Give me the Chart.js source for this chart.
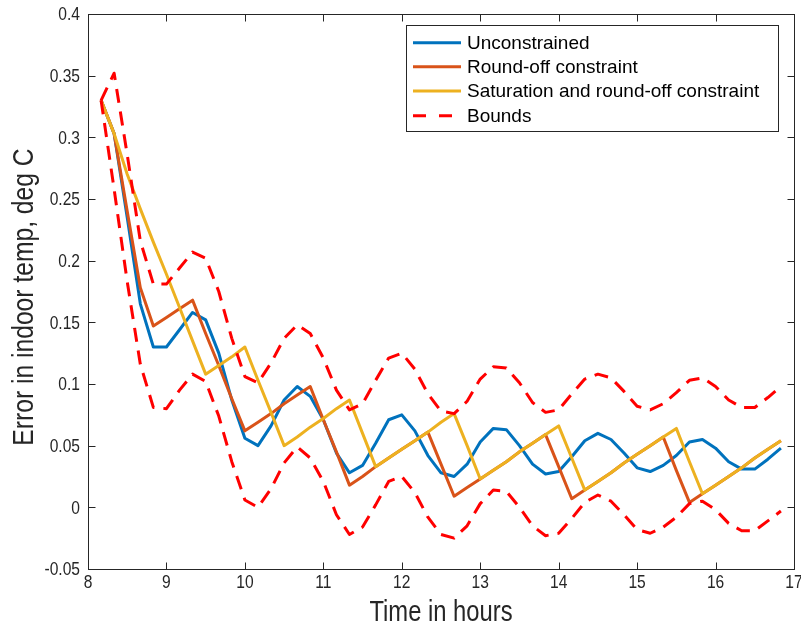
<!DOCTYPE html>
<html>
<head>
<meta charset="utf-8">
<title>Error in indoor temp</title>
<script src="https://cdn.jsdelivr.net/npm/chart.js@4.4.1/dist/chart.umd.min.js"></script>
<style>
  html, body { margin: 0; padding: 0; background: #fff; }
  #wrap { width: 801px; height: 631px; }
</style>
</head>
<body>
<div id="wrap"><canvas id="errChart" width="801" height="631"></canvas></div>
<script>
// sample times (hours), one every 10 minutes
const hours = [8.167, 8.333, 8.5, 8.667, 8.833,
  9, 9.167, 9.333, 9.5, 9.667, 9.833,
  10, 10.167, 10.333, 10.5, 10.667, 10.833,
  11, 11.167, 11.333, 11.5, 11.667, 11.833,
  12, 12.167, 12.333, 12.5, 12.667, 12.833,
  13, 13.167, 13.333, 13.5, 13.667, 13.833,
  14, 14.167, 14.333, 14.5, 14.667, 14.833,
  15, 15.167, 15.333, 15.5, 15.667, 15.833,
  16, 16.167, 16.333, 16.5, 16.667, 16.833];

const unconstrained = [0.330, 0.303, 0.235, 0.165, 0.130,
  0.130, 0.144, 0.158, 0.152, 0.125, 0.087,
  0.056, 0.050, 0.066, 0.087, 0.098, 0.090,
  0.071, 0.044, 0.028, 0.034, 0.052, 0.071,
  0.075, 0.062, 0.042, 0.028, 0.025, 0.035,
  0.053, 0.064, 0.063, 0.050, 0.035, 0.027,
  0.029, 0.041, 0.054, 0.060, 0.055, 0.044,
  0.032, 0.029, 0.034, 0.042, 0.053, 0.055,
  0.048, 0.037, 0.031, 0.031, 0.039, 0.048];

const roundOff = [0.330, 0.303, 0.240, 0.178, 0.147,
  0.154, 0.161, 0.168, 0.141, 0.115, 0.088,
  0.062, 0.069, 0.076, 0.084, 0.091, 0.098,
  0.071, 0.045, 0.018, 0.025, 0.033, 0.040,
  0.047, 0.054, 0.061, 0.035, 0.009, 0.016,
  0.023, 0.030, 0.037, 0.045, 0.052, 0.059,
  0.033, 0.007, 0.014, 0.021, 0.028, 0.036,
  0.043, 0.050, 0.057, 0.030, 0.004, 0.011,
  0.018, 0.025, 0.032, 0.040, 0.047, 0.054];

const saturation = [0.330, 0.303, 0.270, 0.242, 0.215,
  0.189, 0.162, 0.135, 0.108, 0.115, 0.122,
  0.130, 0.103, 0.077, 0.050, 0.057, 0.065,
  0.072, 0.080, 0.087, 0.060, 0.033, 0.040,
  0.047, 0.054, 0.061, 0.069, 0.076, 0.050,
  0.023, 0.030, 0.037, 0.045, 0.052, 0.059,
  0.066, 0.040, 0.014, 0.021, 0.028, 0.036,
  0.043, 0.050, 0.057, 0.064, 0.037, 0.011,
  0.018, 0.025, 0.032, 0.040, 0.047, 0.054];

const upperBound = [0.330, 0.352, 0.286, 0.216, 0.181,
  0.181, 0.194, 0.207, 0.202, 0.175, 0.137,
  0.106, 0.101, 0.117, 0.137, 0.148, 0.141,
  0.121, 0.095, 0.079, 0.084, 0.103, 0.121,
  0.125, 0.112, 0.092, 0.078, 0.076, 0.086,
  0.104, 0.114, 0.113, 0.101, 0.085, 0.077,
  0.079, 0.092, 0.104, 0.108, 0.105, 0.094,
  0.082, 0.079, 0.084, 0.093, 0.103, 0.105,
  0.098, 0.087, 0.081, 0.081, 0.089, 0.098];

const lowerBound = [0.330, 0.258, 0.183, 0.116, 0.081,
  0.080, 0.095, 0.108, 0.102, 0.074, 0.037,
  0.006, 0.000, 0.015, 0.036, 0.049, 0.040,
  0.021, -0.006, -0.022, -0.016, 0.002, 0.021,
  0.025, 0.012, -0.008, -0.022, -0.025, -0.015,
  0.003, 0.014, 0.013, 0.000, -0.015, -0.023,
  -0.021, -0.009, 0.004, 0.010, 0.005, -0.006,
  -0.018, -0.021, -0.016, -0.008, 0.003, 0.005,
  -0.002, -0.013, -0.019, -0.019, -0.011, -0.003];

const xTicks = [8, 9, 10, 11, 12, 13, 14, 15, 16, 17];
const yTicks = [-0.05, 0, 0.05, 0.1, 0.15, 0.2, 0.25, 0.3, 0.35, 0.4];

const seriesNames = ['Unconstrained', 'Round-off constraint', 'Saturation and round-off constraint', 'Bounds'];
const seriesColors = ['#0072BD', '#D95319', '#EDB120', '#FF0000'];

const axisColor = '#262626';
const axisFont = "'Liberation Sans', Arial, sans-serif";
const dashPattern = [14, 9];
const narrow = 0.82; // the axis text in the original is a condensed face

const toPoints = (arr) => hours.map((h, i) => ({ x: h, y: arr[i] }));

// box, inward ticks, axis titles and legend, MATLAB style
const framePlugin = {
    id: 'frame',
    afterDraw(chart) {
        const ctx = chart.ctx;
        const area = chart.chartArea;
        const xs = chart.scales.x;
        const ys = chart.scales.y;
        const L = Math.round(area.left) + 0.5;
        const R = Math.round(area.right) + 0.5;
        const T = Math.round(area.top) + 0.5;
        const B = Math.round(area.bottom) + 0.5;
        const tick = 7;

        ctx.save();
        ctx.strokeStyle = axisColor;
        ctx.lineWidth = 1;
        ctx.strokeRect(L, T, R - L, B - T);

        ctx.beginPath();
        xTicks.forEach(v => {
            const px = Math.round(xs.getPixelForValue(v)) + 0.5;
            ctx.moveTo(px, B); ctx.lineTo(px, B - tick);
            ctx.moveTo(px, T); ctx.lineTo(px, T + tick);
        });
        yTicks.forEach(v => {
            const py = Math.round(ys.getPixelForValue(v)) + 0.5;
            ctx.moveTo(L, py); ctx.lineTo(L + tick, py);
            ctx.moveTo(R, py); ctx.lineTo(R - tick, py);
        });
        ctx.stroke();

        // tick labels, condensed
        ctx.fillStyle = axisColor;
        ctx.font = '19px ' + axisFont;
        ctx.textBaseline = 'middle';
        ctx.textAlign = 'center';
        xTicks.forEach(v => {
            ctx.save();
            ctx.translate(xs.getPixelForValue(v), 583);
            ctx.scale(narrow, 1);
            ctx.fillText(String(v), 0, 0);
            ctx.restore();
        });
        ctx.textAlign = 'right';
        yTicks.forEach(v => {
            ctx.save();
            ctx.translate(area.left - 8, ys.getPixelForValue(v) + 1);
            ctx.scale(narrow, 1);
            ctx.fillText(String(Math.round(v * 100) / 100), 0, 0);
            ctx.restore();
        });

        // axis titles
        ctx.font = '29px ' + axisFont;
        ctx.textAlign = 'center';
        ctx.textBaseline = 'alphabetic';
        ctx.save();
        ctx.translate((area.left + area.right) / 2, 621);
        ctx.scale(narrow, 1);
        ctx.fillText('Time in hours', 0, 0);
        ctx.restore();

        ctx.save();
        ctx.translate(33, 297);
        ctx.rotate(-Math.PI / 2);
        ctx.scale(narrow + 0.03, 1);
        ctx.fillText('Error in indoor temp, deg C', 0, 0);
        ctx.restore();

        // legend
        const box = { x: 406.5, y: 25.5, w: 372, h: 106 };
        ctx.fillStyle = '#fff';
        ctx.fillRect(box.x, box.y, box.w, box.h);
        ctx.strokeStyle = axisColor;
        ctx.lineWidth = 1;
        ctx.strokeRect(box.x, box.y, box.w, box.h);

        const rows = [42.7, 66.7, 90.9, 115.7];
        ctx.font = '19px ' + axisFont;
        ctx.textAlign = 'left';
        ctx.textBaseline = 'middle';
        seriesNames.forEach((name, i) => {
            ctx.save();
            ctx.strokeStyle = seriesColors[i];
            ctx.lineWidth = 3;
            if (i === 3) ctx.setLineDash([13, 13]);
            ctx.beginPath();
            ctx.moveTo(413, rows[i]);
            ctx.lineTo(461, rows[i]);
            ctx.stroke();
            ctx.restore();
            ctx.fillStyle = '#000';
            ctx.fillText(name, 467, rows[i] + 1);
        });
        ctx.restore();
    }
};

const ctx = document.getElementById('errChart').getContext('2d');
const chart = new Chart(ctx, {
    type: 'line',
    data: {
        datasets: [
            { label: seriesNames[0], data: toPoints(unconstrained), borderColor: seriesColors[0], order: 3 },
            { label: seriesNames[1], data: toPoints(roundOff), borderColor: seriesColors[1], order: 2 },
            { label: seriesNames[2], data: toPoints(saturation), borderColor: seriesColors[2], order: 1 },
            { label: 'Upper bound', data: toPoints(upperBound), borderColor: seriesColors[3], borderDash: dashPattern, order: 0 },
            { label: 'Lower bound', data: toPoints(lowerBound), borderColor: seriesColors[3], borderDash: dashPattern, order: 0 }
        ]
    },
    options: {
        responsive: false,
        animation: false,
        devicePixelRatio: 1,
        layout: { padding: { top: 14, right: 7, left: 0, bottom: 0 } },
        plugins: {
            legend: { display: false },
            tooltip: { enabled: false }
        },
        elements: {
            point: { radius: 0 },
            line: { tension: 0, borderWidth: 3, borderJoinStyle: 'round', fill: false }
        },
        scales: {
            x: {
                type: 'linear',
                min: 8,
                max: 17,
                afterBuildTicks: (scale) => { scale.ticks = xTicks.map(v => ({ value: v })); },
                afterFit: (scale) => { scale.height = 62; },
                ticks: { display: false },
                grid: { display: false, drawTicks: false },
                border: { display: false }
            },
            y: {
                type: 'linear',
                min: -0.05,
                max: 0.4,
                afterBuildTicks: (scale) => { scale.ticks = yTicks.map(v => ({ value: v })); },
                afterFit: (scale) => { scale.width = 88; },
                ticks: { display: false },
                grid: { display: false, drawTicks: false },
                border: { display: false }
            }
        }
    },
    plugins: [framePlugin]
});
</script>
</body>
</html>
